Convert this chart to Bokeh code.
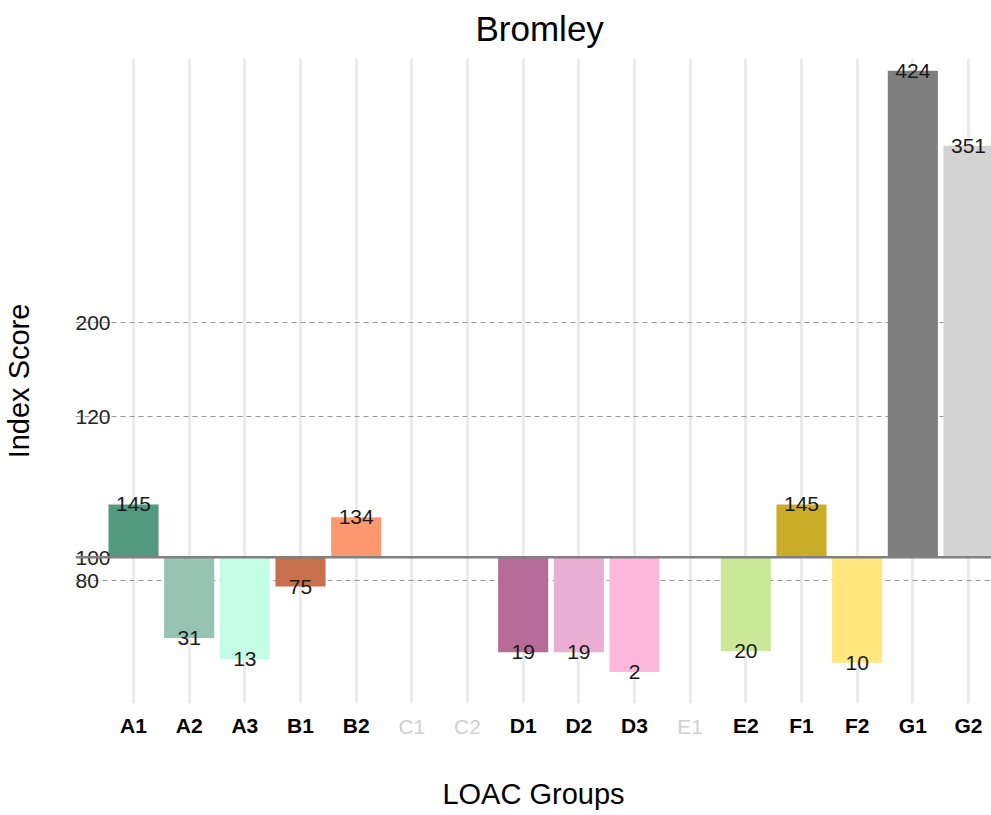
from bokeh.plotting import figure
from bokeh.models import Range1d, FixedTicker, LinearAxis, Span, ColumnDataSource, Grid
from bokeh.embed import file_html
from bokeh.resources import INLINE

# ---- data ----
all_groups = ["A1", "A2", "A3", "B1", "B2", "C1", "C2", "D1", "D2", "D3",
              "E1", "E2", "F1", "F2", "G1", "G2"]
absent_groups = ["C1", "C2", "E1"]
groups = ["A1", "A2", "A3", "B1", "B2", "D1", "D2", "D3", "E2", "F1", "F2", "G1", "G2"]
index_scores = [145, 31, 13, 75, 134, 19, 19, 2, 20, 145, 10, 424, 351]
# bar extent relative to the 100 baseline, as drawn in the picture
bar_offsets = [45, -69, -87, -25, 34, -81, -81, -98, -80, 45, -90, 415, 351]
bar_colors = ["#53997F", "#97C3B2", "#C3FDE6", "#C8704C", "#FC9870", "#B76B99",
              "#EBAED3", "#FDB7DB", "#CBE898", "#CBAD2A", "#FFE67D", "#7F7F7F", "#D3D3D3"]
y_tick_values = [-20, 0, 120, 200]
y_tick_labels = ["80", "100", "120", "200"]

pos = {g: i + 1 for i, g in enumerate(all_groups)}
xs = [pos[g] for g in groups]

src = ColumnDataSource(dict(x=xs, top=bar_offsets, color=bar_colors,
                            label=[str(v) for v in index_scores]))

FONT = "Liberation Sans"

p = figure(width=991, height=815, output_backend="svg", toolbar_location=None,
           x_range=Range1d(-0.042, 16.413), y_range=Range1d(-124.8, 425.5),
           title="Bromley", min_border_left=75, min_border_right=0,
           min_border_top=57, min_border_bottom=112, x_axis_type=None,
           y_axis_type=None)
p.outline_line_color = None
p.background_fill_color = "white"

p.title.text_font = FONT
p.title.text_font_size = "35px"
p.title.text_font_style = "normal"
p.title.align = "left"
p.title.offset = 400
p.title.vertical_align = "top"
p.title.text_color = "#000000"
p.title.standoff = 17

# x axes: present groups (bold black) and absent groups (light grey)
xa = LinearAxis(ticker=FixedTicker(ticks=[pos[g] for g in groups]),
                major_label_overrides={pos[g]: g for g in groups})
xa.major_label_text_font = FONT
xa.major_label_text_font_size = "21px"
xa.major_label_text_font_style = "bold"
xa.major_label_text_color = "#000000"
xa.major_label_standoff = 4
xa.major_tick_line_color = None
xa.minor_tick_line_color = None
xa.axis_line_color = None
p.add_layout(xa, "below")

xb = LinearAxis(ticker=FixedTicker(ticks=[pos[g] for g in absent_groups]),
                major_label_overrides={pos[g]: g for g in absent_groups},
                axis_label="LOAC Groups")
xb.major_label_text_font = FONT
xb.major_label_text_font_size = "21px"
xb.major_label_text_color = "#D0D0D0"
xb.major_label_standoff = -31
xb.major_tick_line_color = None
xb.minor_tick_line_color = None
xb.axis_line_color = None
xb.axis_label_text_font = FONT
xb.axis_label_text_font_size = "29px"
xb.axis_label_text_font_style = "normal"
xb.axis_label_text_color = "#000000"
xb.axis_label_standoff = 37
p.add_layout(xb, "below")

# left-aligned look for the y tick labels: pad shorter labels with no-break spaces
width_chars = max(len(s) for s in y_tick_labels)
padded = [s + "\u00a0" * (2 * (width_chars - len(s))) for s in y_tick_labels]
ya = LinearAxis(ticker=FixedTicker(ticks=y_tick_values),
                major_label_overrides=dict(zip(y_tick_values, padded)),
                axis_label="Index Score")
ya.major_label_text_font = FONT
ya.major_label_text_font_size = "21px"
ya.major_label_text_color = "#222222"
ya.major_label_standoff = -41
ya.major_tick_line_color = None
ya.minor_tick_line_color = None
ya.axis_line_color = None
ya.axis_label_text_font = FONT
ya.axis_label_text_font_size = "29px"
ya.axis_label_text_font_style = "normal"
ya.axis_label_text_color = "#000000"
ya.axis_label_standoff = 37
p.add_layout(ya, "left")

# grids
p.add_layout(Grid(dimension=0, ticker=FixedTicker(ticks=list(range(1, len(all_groups) + 1))),
                  grid_line_color="#EBEBEB", grid_line_width=3))
p.add_layout(Grid(dimension=1, ticker=FixedTicker(ticks=[v for v in y_tick_values if v != 0]),
                  grid_line_color="#999999", grid_line_dash="5 4", grid_line_width=1))

p.vbar(x="x", width=0.9, bottom=0, top="top", fill_color="color",
       line_color=None, source=src)

p.add_layout(Span(location=0, dimension="width", line_color="#808080",
                  line_width=2.5))

p.text(x="x", y="top", text="label", source=src, text_align="center",
       text_baseline="middle", text_font_size="21px", text_color="#1A1A1A",
       text_font={"value": FONT})

open("out.html", "w").write(file_html(p, INLINE))
